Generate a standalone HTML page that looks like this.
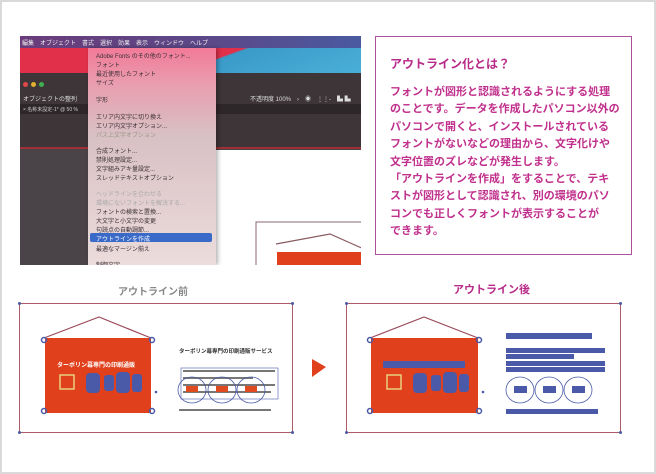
<!DOCTYPE html>
<html><head><meta charset="utf-8"><style>
*{margin:0;padding:0;box-sizing:border-box}
body{width:656px;height:474px;background:#d9d9d9;position:relative;overflow:hidden;font-family:"Liberation Sans","Noto Sans CJK JP",sans-serif}
.a{position:absolute}
.mi{position:absolute;left:8px;font-size:6px;color:#3a3035;white-space:nowrap}
</style></head><body>
<div class="a" style="left:2px;top:2px;width:652px;height:470px;background:#fff"></div>

<div class="a" style="left:20px;top:36px;width:341px;height:229px;background:#4a4347;overflow:hidden">
  <div class="a" style="left:0;top:0;width:341px;height:12px;background:linear-gradient(90deg,#6a3c7a,#5a4a8a 60%,#4a5aa0)"></div>
  <div class="a" style="left:2px;top:2px;font-size:6px;color:#eee;white-space:nowrap">編集　オブジェクト　書式　選択　効果　表示　ウィンドウ　ヘルプ</div>
  <div class="a" style="left:0;top:12px;width:341px;height:25px;background:linear-gradient(160deg,#e0304a 0%,#e0304a 55%,#3a9ac8 56%,#4ab0d8 100%)"></div>
  <div class="a" style="left:0;top:37px;width:341px;height:75px;background:#3d3538"></div>
  <div class="a" style="left:0;top:68px;width:341px;height:10px;background:#2e2729"></div>
  <div class="a" style="left:0;top:111px;width:341px;height:2px;background:#a03038"></div>
  <div class="a" style="left:3px;top:46px;width:5px;height:5px;border-radius:50%;background:#e04848"></div>
  <div class="a" style="left:11px;top:46px;width:5px;height:5px;border-radius:50%;background:#e0b030"></div>
  <div class="a" style="left:19px;top:46px;width:5px;height:5px;border-radius:50%;background:#40b050"></div>
  <div class="a" style="left:3px;top:58px;font-size:6px;color:#ddd">オブジェクトの整列</div>
  <div class="a" style="left:3px;top:70px;font-size:5px;color:#ccc">× 名称未設定-1* @ 50 %</div>
  <div class="a" style="left:230px;top:58px;font-size:6px;color:#ddd;white-space:nowrap">不透明度 100%　›　◉　⋮⋮-　▙ ▙</div>
  <div class="a" style="left:196px;top:114px;width:145px;height:115px;background:#fff"></div>
  <svg class="a" style="left:196px;top:114px" width="145" height="115">
    <polyline points="40,115 40,72 145,72" fill="none" stroke="#8a6a70" stroke-width="1"/>
    <polyline points="60,94 114,84 150,100" fill="none" stroke="#8a5a60" stroke-width="1.2"/>
    <rect x="61" y="102" width="84" height="13" fill="#e0401c"/>
  </svg>
  <div class="a" style="left:68px;top:12px;width:128px;height:217px;background:linear-gradient(180deg,#f27a98 0%,#e8a0b0 18%,#d8c0c4 40%,#ecdcdc 100%);box-shadow:2px 0 4px rgba(0,0,0,.3)">
    <div class="mi" style="top:3px">Adobe Fonts のその他のフォント...</div>
    <div class="mi" style="top:12px">フォント</div>
    <div class="mi" style="top:21px">最近使用したフォント</div>
    <div class="mi" style="top:30px">サイズ</div>
    <div class="mi" style="top:47px">字形</div>
    <div class="mi" style="top:64px">エリア内文字に切り換え</div>
    <div class="mi" style="top:73px">エリア内文字オプション...</div>
    <div class="mi" style="top:82px;color:#998">パス上文字オプション</div>
    <div class="mi" style="top:98px">合成フォント...</div>
    <div class="mi" style="top:107px">禁則処理設定...</div>
    <div class="mi" style="top:116px">文字組みアキ量設定...</div>
    <div class="mi" style="top:125px">スレッドテキストオプション</div>
    <div class="mi" style="top:141px;color:#aaa">ヘッドラインを合わせる</div>
    <div class="mi" style="top:150px;color:#aaa">環境にないフォントを解決する...</div>
    <div class="mi" style="top:159px">フォントの検索と置換...</div>
    <div class="mi" style="top:168px">大文字と小文字の変更</div>
    <div class="mi" style="top:177px">句読点の自動調節...</div>
    <div class="a" style="left:2px;top:185px;width:122px;height:9px;background:#3a6ac8;border-radius:2px"></div>
    <div class="mi" style="top:186px;color:#fff">アウトラインを作成</div>
    <div class="mi" style="top:196px">最適なマージン揃え</div>
    <div class="mi" style="top:212px">制御文字</div>
  </div>
</div>

<div class="a" style="left:375px;top:36px;width:257px;height:219px;border:1.5px solid #b0509a"></div>
<div class="a" style="left:390px;top:55px;font-size:12px;font-weight:bold;color:#b82a88;white-space:nowrap">アウトライン化とは？</div>
<div class="a" style="left:390px;top:84px;font-size:11px;font-weight:bold;color:#c0308c;line-height:17.4px;letter-spacing:0;white-space:nowrap">フォントが図形と認識されるようにする処理<br>のことです。データを作成したパソコン以外の<br>パソコンで開くと、インストールされている<br>フォントがないなどの理由から、文字化けや<br>文字位置のズレなどが発生します。<br>「アウトラインを作成」をすることで、テキ<br>ストが図形として認識され、別の環境のパソ<br>コンでも正しくフォントが表示することが<br>できます。</div>

<div class="a" style="left:118px;top:283px;font-size:10px;font-weight:bold;color:#888">アウトライン前</div>
<div class="a" style="left:453px;top:281px;font-size:11px;font-weight:bold;color:#b82a88">アウトライン後</div>

<svg class="a" style="left:0;top:0" width="656" height="474">
  <g fill="none" stroke="#b05a6a" stroke-width="1">
    <rect x="19.5" y="303.5" width="273" height="129"/>
    <rect x="346.5" y="303.5" width="274" height="129"/>
  </g>
  <g fill="#4a5aa8">
    <circle cx="19.5" cy="303.5" r="1.5"/><circle cx="292.5" cy="303.5" r="1.5"/><circle cx="19.5" cy="432.5" r="1.5"/><circle cx="292.5" cy="432.5" r="1.5"/>
    <circle cx="346.5" cy="303.5" r="1.5"/><circle cx="620.5" cy="303.5" r="1.5"/><circle cx="346.5" cy="432.5" r="1.5"/><circle cx="620.5" cy="432.5" r="1.5"/>
  </g>
  <polyline points="44,338 99,317 151,338" fill="none" stroke="#9a4a5a" stroke-width="1.2"/>
  <rect x="45" y="338" width="106" height="75" fill="#e0401c"/>
  <g fill="none" stroke="#4a5aa8" stroke-width="1.5"><circle cx="44" cy="340" r="2.5"/><circle cx="152" cy="340" r="2.5"/><circle cx="44" cy="411" r="2.5"/><circle cx="152" cy="411" r="2.5"/></g>
  <text x="57" y="367" font-size="6" fill="#fff" font-family="Liberation Sans,Noto Sans CJK JP,sans-serif" font-weight="bold">ターポリン幕専門の印刷通販</text>
  <rect x="60" y="375" width="14" height="14" fill="none" stroke="#e8d080" stroke-width="1.5"/>
  <g fill="#4a5aa8"><rect x="86" y="373" width="14" height="20" rx="4"/><rect x="104" y="375" width="10" height="16" rx="3"/><rect x="116" y="372" width="14" height="21" rx="4"/><rect x="132" y="374" width="10" height="18" rx="3"/></g>
  <circle cx="156" cy="392" r="1.3" fill="#4a5aa8"/>
  <text x="179" y="353" font-size="5.5" fill="#333" font-weight="bold" font-family="Liberation Sans,Noto Sans CJK JP,sans-serif">ターポリン幕専門の印刷通販サービス</text>
  <rect x="181" y="368" width="97" height="31" fill="none" stroke="#4a5aa8" stroke-width=".6"/>
  <g fill="#777"><rect x="183" y="370" width="92" height="2"/><rect x="183" y="377" width="70" height="2"/><rect x="183" y="384" width="92" height="2"/><rect x="183" y="391" width="88" height="2"/></g>
  <g fill="none" stroke="#4a5aa8" stroke-width=".8"><ellipse cx="192" cy="390" rx="14" ry="13"/><ellipse cx="222" cy="390" rx="14" ry="13"/><ellipse cx="251" cy="390" rx="14" ry="13"/></g>
  <g fill="#e04a20"><rect x="186" y="386" width="12" height="6"/><rect x="216" y="386" width="12" height="6"/><rect x="245" y="386" width="12" height="6"/></g>
  <rect x="179" y="409" width="92" height="2" fill="#777"/>
  <polygon points="312,359 326,367 312,377" fill="#e0401c"/>
  <polyline points="370,338 424,317 478,338" fill="none" stroke="#9a4a5a" stroke-width="1.2"/>
  <rect x="371" y="338" width="107" height="75" fill="#e0401c"/>
  <g fill="none" stroke="#4a5aa8" stroke-width="1.5"><circle cx="370" cy="340" r="2.5"/><circle cx="479" cy="340" r="2.5"/><circle cx="370" cy="411" r="2.5"/><circle cx="479" cy="411" r="2.5"/></g>
  <rect x="383" y="361" width="82" height="7" fill="#4a5aa8"/>
  <rect x="387" y="375" width="14" height="14" fill="none" stroke="#e8d080" stroke-width="1.5"/>
  <g fill="#4a5aa8"><rect x="413" y="373" width="14" height="20" rx="4"/><rect x="431" y="375" width="10" height="16" rx="3"/><rect x="443" y="372" width="14" height="21" rx="4"/><rect x="459" y="374" width="10" height="18" rx="3"/></g>
  <circle cx="483" cy="392" r="1.3" fill="#4a5aa8"/>
  <g fill="#4a5aa8"><rect x="506" y="333" width="86" height="6"/><rect x="506" y="348" width="99" height="5"/><rect x="506" y="354" width="68" height="5"/><rect x="506" y="361" width="99" height="5"/><rect x="506" y="367" width="99" height="5"/><rect x="506" y="409" width="92" height="5"/>
  <rect x="514" y="386" width="13" height="7"/><rect x="543" y="386" width="13" height="7"/><rect x="572" y="386" width="13" height="7"/></g>
  <g fill="none" stroke="#4a5aa8" stroke-width=".8"><ellipse cx="520" cy="390" rx="14" ry="13"/><ellipse cx="549" cy="390" rx="14" ry="13"/><ellipse cx="578" cy="390" rx="14" ry="13"/></g>
</svg>
</body></html>
